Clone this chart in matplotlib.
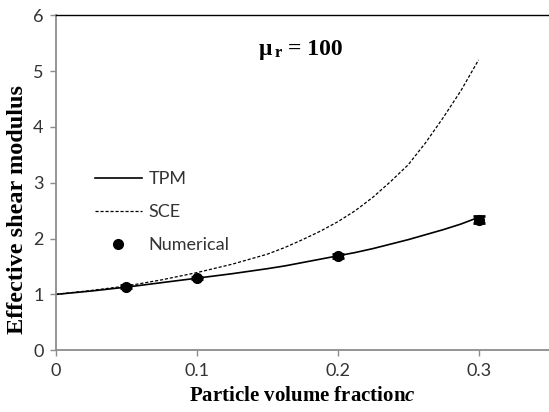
import numpy as np
import matplotlib.pyplot as plt

plt.rcParams['mathtext.fontset'] = 'custom'
plt.rcParams['mathtext.it'] = 'Liberation Serif:style=italic:weight=bold'
plt.rcParams['mathtext.rm'] = 'Liberation Serif:weight=bold'

# curves
c_curve = [0, 0.025, 0.05, 0.075, 0.1, 0.125, 0.15, 0.1625, 0.175, 0.1875, 0.2,
           0.2125, 0.225, 0.2375, 0.25, 0.2625, 0.275, 0.2875, 0.3]
tpm = [1.0, 1.06, 1.13, 1.21, 1.29, 1.37, 1.46, 1.51, 1.57, 1.63, 1.69,
       1.75, 1.82, 1.90, 1.98, 2.07, 2.16, 2.26, 2.38]
sce = [1.0, 1.07, 1.15, 1.26, 1.39, 1.54, 1.72, 1.84, 1.98, 2.13, 2.30,
       2.50, 2.74, 3.02, 3.32, 3.72, 4.17, 4.65, 5.2]

# numerical results
c_num = [0.05, 0.1, 0.2, 0.3]
num = [1.14, 1.29, 1.69, 2.34]
num_err = [0.02, 0.02, 0.03, 0.06]

fig = plt.figure(figsize=(5.49, 4.12), dpi=100)
ax = fig.add_axes([0.102, 0.150, 0.898, 0.813])

tick_font = 'Lato'
grey = '#8c8c8c'

ax.plot(c_curve, tpm, color='black', lw=1.2, label='TPM')
ax.plot(c_curve, sce, color='black', lw=0.9, linestyle=(0, (2.5, 1.5)), label='SCE')
ax.errorbar(c_num, num, yerr=num_err, fmt='none', ecolor='black',
            capsize=4, capthick=2, elinewidth=1.5)
ax.plot(c_num, num, 'o', color='black', ms=7, label='Numerical')

ax.set_xlim(0, 0.35)
ax.set_ylim(0, 6)
ax.set_xticks([0, 0.1, 0.2, 0.3])
ax.set_xticklabels(['0', '0.1', '0.2', '0.3'])
ax.set_yticks(range(7))

for s in ['left', 'bottom']:
    ax.spines[s].set_color(grey)
    ax.spines[s].set_linewidth(1.3)
ax.spines['top'].set_color('black')
ax.spines['top'].set_linewidth(1.0)
ax.spines['right'].set_visible(False)
ax.tick_params(direction='out', length=4, width=1, color=grey,
               labelsize=13, labelcolor='#333333', pad=5)
for lab in ax.get_xticklabels() + ax.get_yticklabels():
    lab.set_fontfamily(tick_font)

ax.set_xlabel('Particle volume fraction$\\mathit{c}$', fontsize=15, fontweight='bold',
              family='Liberation Serif', labelpad=5)
ax.set_ylabel('Effective shear modulus', fontsize=17.5, fontweight='bold',
              family='Liberation Serif')
ax.yaxis.set_label_coords(-0.056, 0.42)

ax.text(0.1535, 5.38, '\u03bc', fontsize=17, fontweight='bold', family='Liberation Serif',
        ha='right', va='center')
ax.text(0.155, 5.32, 'r', fontsize=12, fontweight='bold', family='Liberation Serif',
        ha='left', va='center')
ax.text(0.165, 5.38, '= 100', fontsize=17, fontweight='bold', family='Liberation Serif',
        ha='left', va='center')

leg = ax.legend(loc='upper left', bbox_to_anchor=(0.156, 0.607), bbox_transform=fig.transFigure,
                frameon=False, borderpad=0, handlelength=2.6, handletextpad=0.4,
                labelspacing=0.95, numpoints=1, prop={'family': tick_font, 'size': 13})
for t in leg.get_texts():
    t.set_color('#333333')

fig.savefig('out.png', dpi=100)
